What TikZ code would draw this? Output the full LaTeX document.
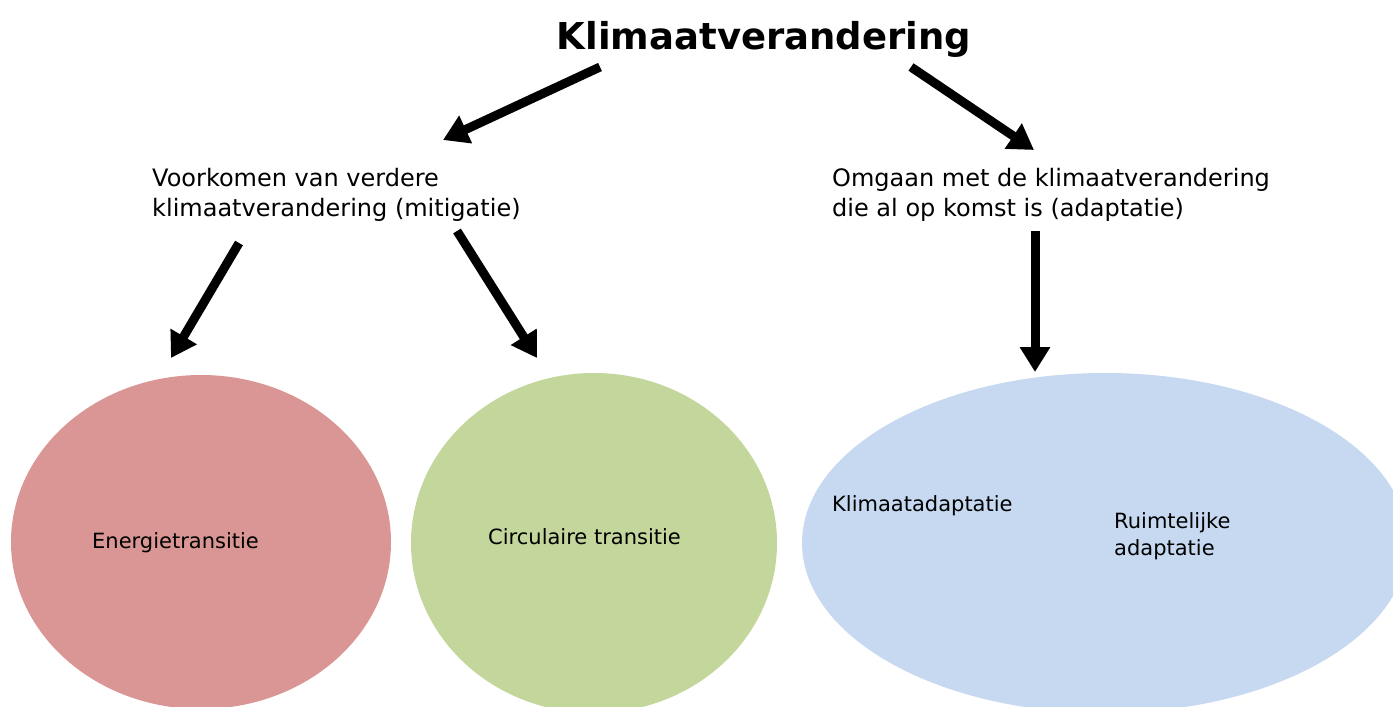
\documentclass[tikz,border=0pt]{standalone}
\usepackage{fontspec}
\setmainfont{DejaVu Sans}
\usetikzlibrary{arrows.meta,shapes.geometric}
\definecolor{redfill}{HTML}{D99694}
\definecolor{greenfill}{HTML}{C3D69B}
\definecolor{bluefill}{HTML}{C6D9F1}
\tikzset{
  bigarrow/.style={line width=9pt,-{Triangle[length=25pt,width=29pt]}},
  blob/.style={ellipse,draw=none,inner sep=0pt},
  headtext/.style={font=\fontsize{24}{30}\selectfont,align=left,inner sep=0pt,anchor=north west},
  labeltext/.style={font=\fontsize{21}{27}\selectfont,align=left,inner sep=0pt,anchor=base west},
}
\begin{document}
\begin{tikzpicture}[x=1pt,y=-1pt]
\useasboundingbox (0,0) rectangle (1393,707);
\begin{scope}
\clip (0,0) rectangle (1393,707);
\node[blob,fill=redfill,minimum width=380pt,minimum height=334pt] (red) at (201,542) {};
\node[blob,fill=greenfill,minimum width=366pt,minimum height=340pt] (green) at (594,543) {};
\node[blob,fill=bluefill,minimum width=606pt,minimum height=340pt] (blue) at (1105,543) {};
\end{scope}
\node[font=\fontsize{37}{40}\selectfont\bfseries,anchor=base,inner sep=0pt] (title) at (764,49) {Klimaatverandering};
\node[headtext] (mitig) at (152,168) {Voorkomen van verdere\\klimaatverandering (mitigatie)};
\node[headtext] (adapt) at (832,168) {Omgaan met de klimaatverandering\\die al op komst is (adaptatie)};
\node[labeltext] (energie) at (92,548) {Energietransitie};
\node[labeltext] (circ) at (488,544) {Circulaire transitie};
\node[labeltext] (klim) at (832,511) {Klimaatadaptatie};
\node[labeltext] (ruimte) at (1114,555) {Ruimtelijke\\adaptatie};
\coordinate (a1s) at (600,67);
\coordinate (a1e) at (443,140);
\coordinate (a2s) at (911,67);
\coordinate (a2e) at (1034,150);
\coordinate (a3s) at (239,243);
\coordinate (a3e) at (171,358);
\coordinate (a4s) at (457,231);
\coordinate (a4e) at (537,358);
\coordinate (a5s) at (1035,231);
\coordinate (a5e) at (1035,372);
\draw[bigarrow] (a1s) -- (a1e);
\draw[bigarrow] (a2s) -- (a2e);
\draw[bigarrow] (a3s) -- (a3e);
\draw[bigarrow] (a4s) -- (a4e);
\draw[bigarrow] (a5s) -- (a5e);
\end{tikzpicture}
\end{document}
